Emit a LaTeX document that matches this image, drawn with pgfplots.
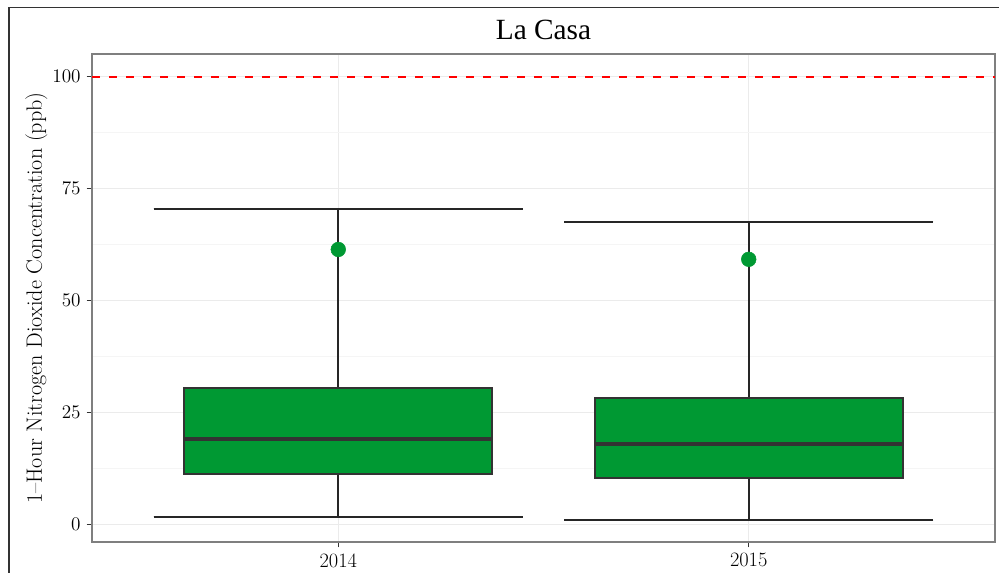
\documentclass[border=0pt]{standalone}
\usepackage{fontspec}
\usepackage{pgfplots}
\pgfplotsset{compat=1.18}
\usepgfplotslibrary{statistics}
\newfontfamily\titlefont{Liberation Serif}
\definecolor{boxgreen}{HTML}{009933}
\definecolor{edge}{HTML}{333333}
\definecolor{gridmaj}{HTML}{EBEBEB}
\definecolor{gridmin}{HTML}{F5F5F5}
\definecolor{frame}{HTML}{7F7F7F}

\begin{document}
\begin{tikzpicture}
% page is 999 x 573 px, 1 px = 0.75pt
\useasboundingbox (0,0) rectangle (749.25pt,-429.75pt);
\draw[edge, line width=0.9pt] (6.75pt,-429.75pt) -- (6.75pt,-5.4pt) -- (749.25pt,-5.4pt);
\begin{axis}[
    at={(69pt,-406.5pt)}, anchor=south west,
    width=677.25pt, height=366pt, scale only axis,
    xmin=0.4, xmax=2.6,
    ymin=-4.0, ymax=105.1,
    xtick={1,2}, xticklabels={2014,2015},
    ytick={0,25,50,75,100},
    minor ytick={12.5,37.5,62.5,87.5},
    grid=both,
    major grid style={gridmaj, line width=0.8pt},
    minor grid style={gridmin, line width=0.5pt},
    axis line style={frame, line width=0.9pt},
    tick pos=left, tick align=outside,
    major tick length=4pt, minor tick length=0pt,
    tick style={edge, line width=0.9pt},
    ticklabel style={font=\fontsize{15.3}{15.3}\selectfont},
    yticklabel style={xshift=-1pt},
    xticklabel style={yshift=-1pt},
    ylabel={1--Hour Nitrogen Dioxide Concentration (ppb)},
    ylabel style={font=\fontsize{16.6}{16.6}\selectfont,
        at={(axis description cs:-0.0554,0.5)}, anchor=base},
    title={\titlefont La Casa},
    title style={font=\fontsize{22}{22}\selectfont,
        at={(axis description cs:0.5,1)}, anchor=base, yshift=4.5pt},
    boxplot/draw direction=y,
    clip=false,
]
% reference line
\addplot[red, line width=1.5pt, dash pattern=on 6pt off 6.75pt]
    coordinates {(0.4,100) (2.6,100)};

% boxes
\addplot[boxplot prepared={draw position=1,
        lower whisker=1.6, lower quartile=11.2, median=19.0,
        upper quartile=30.4, upper whisker=70.5,
        box extend=0.75, whisker extend=0.9},
    fill=boxgreen, draw=edge, line width=1.5pt,
    boxplot/every median/.style={line width=3pt},
    boxplot/every whisker/.style={black!85, line width=1.5pt}]
    coordinates {};
\addplot[boxplot prepared={draw position=2,
        lower whisker=0.9, lower quartile=10.3, median=17.9,
        upper quartile=28.3, upper whisker=67.6,
        box extend=0.75, whisker extend=0.9},
    fill=boxgreen, draw=edge, line width=1.5pt,
    boxplot/every median/.style={line width=3pt},
    boxplot/every whisker/.style={black!85, line width=1.5pt}]
    coordinates {};

% means
\addplot[only marks, mark=*, mark size=5.5pt, color=boxgreen,
    mark options={fill=boxgreen, draw=boxgreen}]
    coordinates {(1,61.4) (2,59.2)};
\end{axis}
\end{tikzpicture}
\end{document}
